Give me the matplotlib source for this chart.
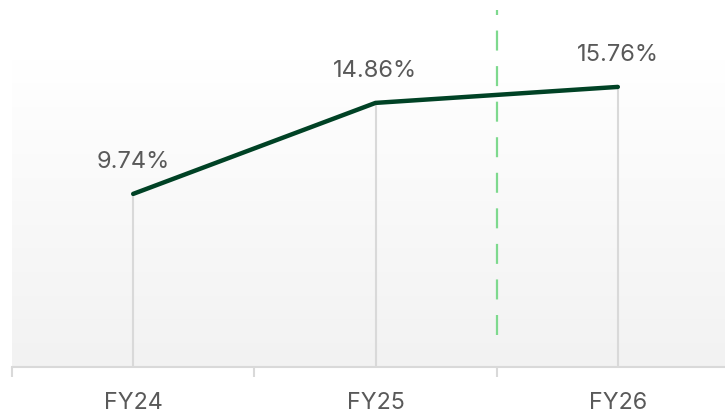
import numpy as np
import matplotlib.pyplot as plt
from matplotlib.colors import LinearSegmentedColormap

plt.rcParams['font.family'] = ['Inter', 'DejaVu Sans']

# data
years = ['FY24', 'FY25', 'FY26']
margin = [9.74, 14.86, 15.76]
labels = ['9.74%', '14.86%', '15.76%']

fig = plt.figure(figsize=(7.25, 4.13), dpi=100)
# plot area runs a bit past the right edge of the canvas
ax = fig.add_axes([12 / 725, 46 / 413, 727 / 725, 367 / 413])
ax.set_xlim(-0.5, 2.5)
ax.set_ylim(0, 20.65)

# soft background fading to white at the top
bg = LinearSegmentedColormap.from_list('bg', ['#f2f2f2', '#ffffff'])
grad = np.linspace(0, 1, 256).reshape(-1, 1)
ax.imshow(grad, cmap=bg, origin='lower', aspect='auto',
          extent=[-0.5, 2.5, 0, 17.28], zorder=0)

x = np.arange(len(years))
ax.vlines(x, 0, margin, colors='#d9d9d9', linewidth=1.5, zorder=1)
ax.plot(x, margin, color='#004225', linewidth=3.2, solid_capstyle='round', zorder=3)

for xi, v, t in zip(x, margin, labels):
    ax.annotate(t, (xi, v), xytext=(0, 15), textcoords='offset points',
                ha='center', va='bottom', fontsize=17, color='#595959')

# forecast divider
ax.vlines(1.5, 1.8, 20.09, colors='#7ed98e', linewidth=1.6,
          linestyles=(0, (9, 7)), zorder=2)

for s in ['top', 'right', 'left']:
    ax.spines[s].set_visible(False)
ax.spines['bottom'].set_color('#d9d9d9')
ax.spines['bottom'].set_linewidth(1.5)
ax.set_yticks([])
ax.set_xticks(x)
ax.set_xticklabels(years, fontsize=16.8, color='#595959')
ax.tick_params(axis='x', which='major', length=0, pad=18)
ax.set_xticks([-0.5, 0.5, 1.5, 2.5], minor=True)
ax.tick_params(axis='x', which='minor', length=7, width=1.5, color='#d9d9d9')

fig.savefig('out.png', dpi=100)
